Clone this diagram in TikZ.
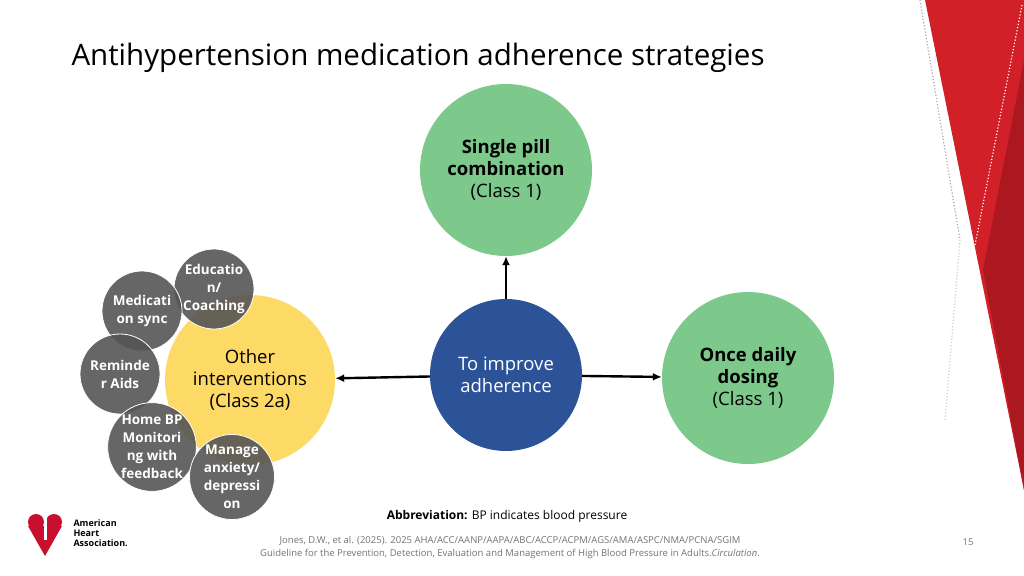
\documentclass[tikz,border=0pt]{standalone}
\usepackage{fontspec}
\setmainfont{Open Sans}
\usetikzlibrary{arrows.meta}
\definecolor{redA}{RGB}{210,32,40}
\definecolor{redB}{RGB}{172,24,32}
\definecolor{grn}{RGB}{125,201,140}
\definecolor{blu}{RGB}{44,82,152}
\definecolor{yel}{RGB}{253,217,102}
\definecolor{ahared}{RGB}{200,16,46}
\definecolor{gry}{RGB}{85,85,85}
\begin{document}
\begin{tikzpicture}[x=1pt,y=-1pt,
 big/.style={circle,minimum size=172pt,inner sep=0pt,align=center,font=\fontsize{18.5}{22}\selectfont},
 grey/.style={circle,minimum size=80pt,inner sep=0pt,align=center,fill=gry,fill opacity=0.9,text opacity=1,draw=white,line width=0.8pt,text=white,font=\bfseries\fontsize{13.5}{18}\selectfont},
 arr/.style={-{Latex[length=9pt,width=8pt]},line width=2.4pt,black}]
\useasboundingbox (0,0) rectangle (1024,575);
% decoration right
\fill[redA] (925,0) -- (1024,0) -- (1024,490) -- cycle;
\fill[redB] (1024,60) -- (983,270) -- (1024,490) -- cycle;
\draw[gray!70,dotted,line width=1.2pt] (920,0) -- (960,240);
\draw[gray!40,dotted,line width=1.2pt] (960,240) -- (945,420);
\draw[white,dotted,line width=1.2pt] (1022,5) -- (975,245);
\node[anchor=west,font=\fontsize{29.5}{34}\selectfont] (title) at (68,58) {Antihypertension medication adherence strategies};
\node[big,fill=grn] (single) at (506,170) {\textbf{Single pill}\\\textbf{combination}\\(Class 1)};
\node[big,fill=grn] (once) at (748,378) {\textbf{Once daily}\\\textbf{dosing}\\(Class 1)};
\node[circle,minimum size=152pt,inner sep=0pt,align=center,fill=blu,text=white,font=\fontsize{18.5}{22}\selectfont] (center) at (506,375) {To improve\\adherence};
\node[big,minimum size=170pt,fill=yel] (other) at (250,380) {Other\\interventions\\(Class 2a)};
\node[grey] (edu) at (214,289) {Educatio\\n/\\Coaching};
\node[grey] (med) at (142,311) {Medicati\\on sync};
\node[grey] (rem) at (120,374) {Reminde\\r Aids};
\node[grey] (home) at (152,447) {Home BP\\Monitori\\ng with\\feedback};
\node[grey] (man) at (232,477) {Manage\\anxiety/\\depressi\\on};
\draw[arr] (center) -- (single);
\draw[arr] (center) -- (other);
\draw[arr] (center) -- (once);
\node[font=\fontsize{12}{14}\selectfont] (abbr) at (507,516) {\textbf{Abbreviation:} BP indicates blood pressure};
\node[align=center,text=black!55,font=\fontsize{9.5}{13}\selectfont] (ref) at (510,548) {Jones, D.W., et al. (2025). 2025 AHA/ACC/AANP/AAPA/ABC/ACCP/ACPM/AGS/AMA/ASPC/NMA/PCNA/SGIM\\Guideline for the Prevention, Detection, Evaluation and Management of High Blood Pressure in Adults.\textit{Circulation}.};
\node[text=black!55,font=\fontsize{9.5}{11}\selectfont] (pg) at (968,542) {15};
% logo
\fill[ahared] (36,522) circle (8pt);
\fill[ahared] (54,522) circle (8pt);
\fill[ahared] (28,526) -- (62,526) -- (45,556) -- cycle;
\fill[white] (44,518) rectangle (47,540);
\node[anchor=west,align=left,font=\bfseries\fontsize{9}{10}\selectfont] (aha) at (70,533) {American\\Heart\\Association.};
\end{tikzpicture}
\end{document}
